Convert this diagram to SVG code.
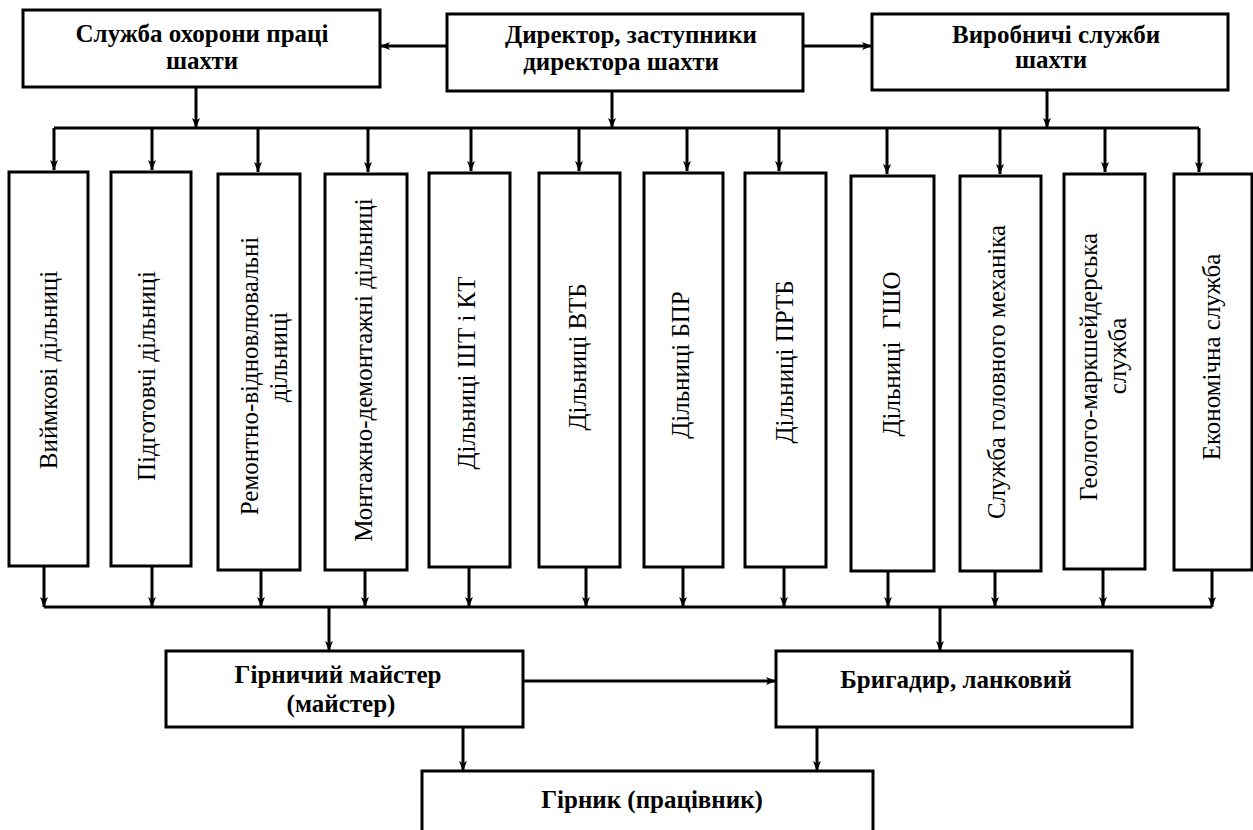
<svg xmlns="http://www.w3.org/2000/svg" width="1253" height="830" viewBox="0 0 1253 830">
<style>
.box{fill:#fff;stroke:#000;stroke-width:3}
.ln{fill:none;stroke:#000;stroke-width:3}
.arr{marker-end:url(#ah)}
.b{font-family:"Liberation Serif","Times New Roman",serif;font-weight:bold;font-size:25px;text-anchor:middle;fill:#000}
.v{font-family:"Liberation Serif","Times New Roman",serif;font-size:25px;text-anchor:middle;fill:#000}
</style>
<defs>
<marker id="ah" viewBox="0 0 10 8" markerWidth="10" markerHeight="8" refX="10" refY="4" orient="auto" markerUnits="userSpaceOnUse">
<path d="M0,0 L10,4 L0,8 L2.5,4 Z" fill="#000"/>
</marker>
</defs>
<rect width="1253" height="830" fill="#fff"/>

<g id="connectors">
<path class="ln arr" d="M447,46 H380"/>
<path class="ln arr" d="M803,46 H872"/>
<path class="ln arr" d="M196,87 V128"/>
<path class="ln arr" d="M612,91 V128"/>
<path class="ln arr" d="M1047,90 V128"/>
<path class="ln" d="M54,128 H1199"/>
<path class="ln arr" d="M54,128 V170"/>
<path class="ln arr" d="M152,128 V170"/>
<path class="ln arr" d="M258,128 V172"/>
<path class="ln arr" d="M368,128 V172"/>
<path class="ln arr" d="M471,128 V171"/>
<path class="ln arr" d="M579,128 V171"/>
<path class="ln arr" d="M687,128 V171"/>
<path class="ln arr" d="M779,128 V171"/>
<path class="ln arr" d="M887,128 V174"/>
<path class="ln arr" d="M1000,128 V174"/>
<path class="ln arr" d="M1105,128 V172"/>
<path class="ln arr" d="M1199,128 V172"/>
<path class="ln arr" d="M44,566 V607"/>
<path class="ln arr" d="M152,566 V607"/>
<path class="ln arr" d="M261,570 V607"/>
<path class="ln arr" d="M365,570 V607"/>
<path class="ln arr" d="M469,567 V607"/>
<path class="ln arr" d="M586,567 V607"/>
<path class="ln arr" d="M683,567 V607"/>
<path class="ln arr" d="M784,567 V607"/>
<path class="ln arr" d="M888,571 V607"/>
<path class="ln arr" d="M995,571 V607"/>
<path class="ln arr" d="M1103,569 V607"/>
<path class="ln arr" d="M1212,570 V607"/>
<path class="ln" d="M44,607 H1212"/>
<path class="ln arr" d="M329,607 V651"/>
<path class="ln arr" d="M940,607 V651"/>
<path class="ln arr" d="M523,681 H776"/>
<path class="ln arr" d="M463,727 V771"/>
<path class="ln arr" d="M817,727 V771"/>
</g>

<g id="n-okhorona">
<rect class="box" x="23" y="10" width="357" height="77"/>
<text class="b" x="202" y="42">Служба охорони праці</text>
<text class="b" x="202" y="69">шахти</text>
</g>
<g id="n-director">
<rect class="box" x="447" y="14" width="356" height="77"/>
<text class="b" x="631" y="43">Директор, заступники</text>
<text class="b" x="621" y="70">директора шахти</text>
</g>
<g id="n-vyrobnychi">
<rect class="box" x="872" y="14" width="356" height="76"/>
<text class="b" x="1056" y="43">Виробничі служби</text>
<text class="b" x="1051" y="68">шахти</text>
</g>

<g id="n1"><rect class="box" x="9" y="172" width="79" height="394"/>
<text class="v" transform="translate(57,370) rotate(-90)">Виймкові дільниці</text></g>
<g id="n2"><rect class="box" x="111" y="172" width="80" height="394"/>
<text class="v" transform="translate(155,376) rotate(-90)">Підготовчі дільниці</text></g>
<g id="n3"><rect class="box" x="218" y="174" width="82" height="396"/>
<text class="v" transform="translate(258,376) rotate(-90)">Ремонтно-відновлювальні</text>
<text class="v" transform="translate(287,357) rotate(-90)">дільниці</text></g>
<g id="n4"><rect class="box" x="325" y="174" width="82" height="396"/>
<text class="v" transform="translate(372,370) rotate(-90)">Монтажно-демонтажні дільниці</text></g>
<g id="n5"><rect class="box" x="429" y="173" width="81" height="394"/>
<text class="v" transform="translate(475,373) rotate(-90)">Дільниці ШТ і КТ</text></g>
<g id="n6"><rect class="box" x="539" y="173" width="81" height="394"/>
<text class="v" transform="translate(586,357) rotate(-90)">Дільниці ВТБ</text></g>
<g id="n7"><rect class="box" x="644" y="173" width="79" height="394"/>
<text class="v" transform="translate(689,365) rotate(-90)">Дільниці БПР</text></g>
<g id="n8"><rect class="box" x="745" y="173" width="81" height="394"/>
<text class="v" transform="translate(793,362) rotate(-90)">Дільниці ПРТБ</text></g>
<g id="n9"><rect class="box" x="851" y="176" width="83" height="395"/>
<text class="v" xml:space="preserve" transform="translate(900,354) rotate(-90)">Дільниці  ГШО</text></g>
<g id="n10"><rect class="box" x="960" y="176" width="81" height="395"/>
<text class="v" transform="translate(1005,372) rotate(-90)">Служба головного механіка</text></g>
<g id="n11"><rect class="box" x="1064" y="174" width="81" height="395"/>
<text class="v" transform="translate(1097,367) rotate(-90)">Геолого-маркшейдерська</text>
<text class="v" transform="translate(1126,356) rotate(-90)">служба</text></g>
<g id="n12"><rect class="box" x="1174" y="174" width="78" height="396"/>
<text class="v" transform="translate(1220,357) rotate(-90)">Економічна служба</text></g>

<g id="n-maister">
<rect class="box" x="166" y="651" width="357" height="76"/>
<text class="b" x="338" y="683">Гірничий майстер</text>
<text class="b" x="341" y="712">(майстер)</text>
</g>
<g id="n-bryhadyr">
<rect class="box" x="776" y="651" width="356" height="76"/>
<text class="b" x="956" y="688">Бригадир, ланковий</text>
</g>
<g id="n-hirnyk">
<rect class="box" x="422" y="771" width="451" height="70"/>
<text class="b" x="652" y="808">Гірник (працівник)</text>
</g>
</svg>
